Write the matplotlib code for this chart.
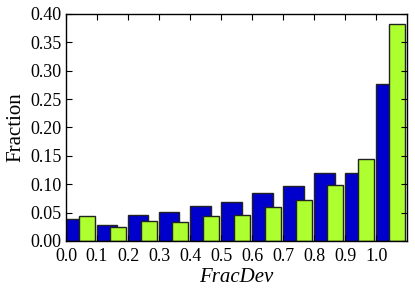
import numpy as np
import matplotlib
matplotlib.use('Agg')
import matplotlib.pyplot as plt

plt.rcParams['font.family'] = 'Liberation Serif'

bin_left = [0.0, 0.1, 0.2, 0.3, 0.4, 0.5, 0.6, 0.7, 0.8, 0.9, 1.0]
frac_blue = [0.038, 0.029, 0.046, 0.051, 0.062, 0.068, 0.085, 0.097, 0.119, 0.120, 0.276]
frac_green = [0.044, 0.024, 0.036, 0.034, 0.044, 0.045, 0.060, 0.073, 0.098, 0.145, 0.383]
xticks = [0.0, 0.1, 0.2, 0.3, 0.4, 0.5, 0.6, 0.7, 0.8, 0.9, 1.0]
yticks = [0.0, 0.05, 0.10, 0.15, 0.20, 0.25, 0.30, 0.35, 0.40]

fig = plt.figure(figsize=(4.15, 2.93), dpi=100)
ax = fig.add_axes([0.159, 0.1775, 0.822, 0.775])

x = np.array(bin_left)
ax.bar(x, frac_blue, width=0.066, align='edge', color='#0000cc',
       edgecolor='#222222', linewidth=1.0)
ax.bar(x + 0.041, frac_green, width=0.051, align='edge', color='#adff2f',
       edgecolor='#222222', linewidth=1.0)

ax.set_xlim(0, 1.1)
ax.set_ylim(0, 0.40)
ax.set_xticks(xticks)
ax.set_xticklabels(['%.1f' % t for t in xticks])
ax.set_yticks(yticks)
ax.set_yticklabels(['%.2f' % t for t in yticks])
ax.tick_params(direction='in', top=True, right=True, labelsize=13, length=4)
ax.tick_params(axis='x', pad=5)
ax.tick_params(axis='y', pad=3)
for s in ax.spines.values():
    s.set_linewidth(1.0)

ax.set_xlabel('FracDev', fontsize=15, style='italic', labelpad=2)
ax.set_ylabel('Fraction', fontsize=15, labelpad=4)

fig.savefig('out.png', dpi=100)
